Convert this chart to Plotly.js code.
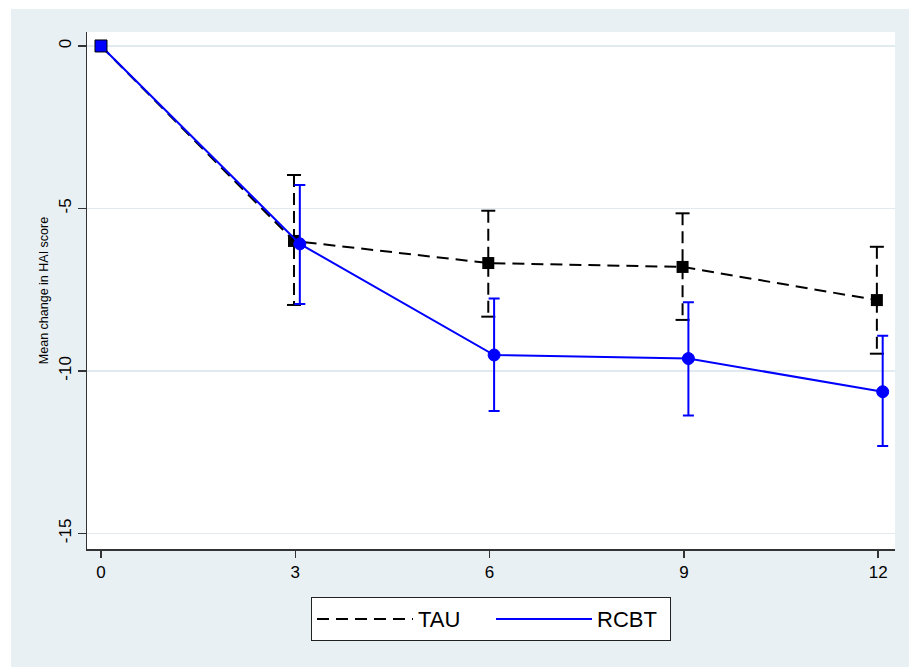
<!DOCTYPE html>
<html>
<head>
<meta charset="utf-8">
<script src="https://cdn.plot.ly/plotly-3.0.1.min.js"></script>
<style>
html,body{margin:0;padding:0;background:#ffffff;}
#chart{position:absolute;left:11px;top:9px;width:898px;height:658px;}
</style>
</head>
<body>
<div id="chart"></div>
<script>
// Data
var months = [0, 3, 6, 9, 12];
var tauMean = [0, -6.0, -6.68, -6.8, -7.82];
var tauLow  = [0, -7.97, -8.33, -8.43, -9.47];
var tauHigh = [0, -3.97, -5.07, -5.15, -6.18];
var rcbtMean = [0, -6.09, -9.51, -9.62, -10.64];
var rcbtLow  = [0, -7.94, -11.23, -11.37, -12.31];
var rcbtHigh = [0, -4.28, -7.77, -7.89, -8.92];
var yTicks = [0, -5, -10, -15];
var xTicks = [0, 3, 6, 9, 12];
var seriesNames = ['TAU', 'RCBT'];

// small horizontal dodge between the two groups
var tauDodge = -0.02, rcbtDodge = 0.07;
var tauX = months.map(function(m){ return m === 0 ? m : m + tauDodge; });
var rcbtX = months.map(function(m){ return m === 0 ? m : m + rcbtDodge; });

// TAU dashed CI segments
var segX = [], segY = [], capX = [], capY = [];
for (var i = 1; i < months.length; i++) {
  segX.push(tauX[i], tauX[i], null);
  segY.push(tauHigh[i], tauLow[i], null);
  capX.push(tauX[i], tauX[i]);
  capY.push(tauHigh[i], tauLow[i]);
}

var font = 'Liberation Sans, Arial, sans-serif';

var traces = [
  { // TAU CI dashed verticals
    x: segX, y: segY, mode: 'lines', showlegend: false, hoverinfo: 'skip',
    line: {color: '#000000', width: 2, dash: '12px,6px'}
  },
  { // TAU caps
    x: capX, y: capY, mode: 'markers', showlegend: false, hoverinfo: 'skip',
    marker: {symbol: 'line-ew', size: 10, line: {color: '#000000', width: 2}}
  },
  { // TAU line
    x: tauX, y: tauMean, mode: 'lines', name: seriesNames[0],
    line: {color: '#000000', width: 2, dash: '12px,7px'}
  },
  { // TAU markers
    x: tauX, y: tauMean, mode: 'markers', showlegend: false,
    marker: {symbol: 'square', size: 12, color: '#000000'}
  },
  { // RCBT line
    x: rcbtX, y: rcbtMean, mode: 'lines', name: seriesNames[1],
    line: {color: '#0000ff', width: 2}
  },
  { // RCBT markers with CI
    x: rcbtX, y: rcbtMean, mode: 'markers', showlegend: false,
    marker: {symbol: ['square','circle','circle','circle','circle'], size: 12, color: '#0000ff',
             line: {color: ['#000000','#0000ff','#0000ff','#0000ff','#0000ff'], width: 1}},
    error_y: {type: 'data', symmetric: false,
              array: rcbtHigh.map(function(h, k){ return h - rcbtMean[k]; }),
              arrayminus: rcbtMean.map(function(m, k){ return m - rcbtLow[k]; }),
              color: '#0000ff', thickness: 2, width: 5.5}
  }
];

var layout = {
  width: 898, height: 658,
  paper_bgcolor: '#e9f0f3',
  plot_bgcolor: '#ffffff',
  margin: {l: 76, r: 14, t: 23, b: 118},
  font: {family: font, color: '#000000', size: 17},
  showlegend: true,
  legend: {
    orientation: 'h', x: 0.5, xanchor: 'center', y: -0.093, yanchor: 'top',
    bgcolor: '#ffffff', bordercolor: '#222222', borderwidth: 1,
    font: {family: font, size: 22, color: '#000000'},
    itemwidth: 96, entrywidth: 68, traceorder: 'normal'
  },
  xaxis: {
    range: [-0.216, 12.26], tickvals: xTicks, ticktext: xTicks.map(String),
    showgrid: false, zeroline: false, showline: true, linecolor: '#333333', linewidth: 1.5,
    ticks: 'outside', ticklen: 7, tickwidth: 1.5, tickcolor: '#333333',
    tickfont: {family: font, size: 17}, mirror: false
  },
  yaxis: {
    range: [-15.48, 0.43], tickvals: yTicks, ticktext: yTicks.map(String),
    showgrid: true, gridcolor: '#e1eaee', gridwidth: 1.5, zeroline: false,
    showline: true, linecolor: '#333333', linewidth: 1.5,
    ticks: 'outside', ticklen: 8, tickwidth: 1.5, tickcolor: '#333333',
    tickangle: -90, tickfont: {family: font, size: 17}, mirror: false,
    title: {text: 'Mean change in HAI score', font: {family: font, size: 12.5}, standoff: 4}
  }
};

Plotly.newPlot('chart', traces, layout, {displayModeBar: false, staticPlot: true});
</script>
</body>
</html>
